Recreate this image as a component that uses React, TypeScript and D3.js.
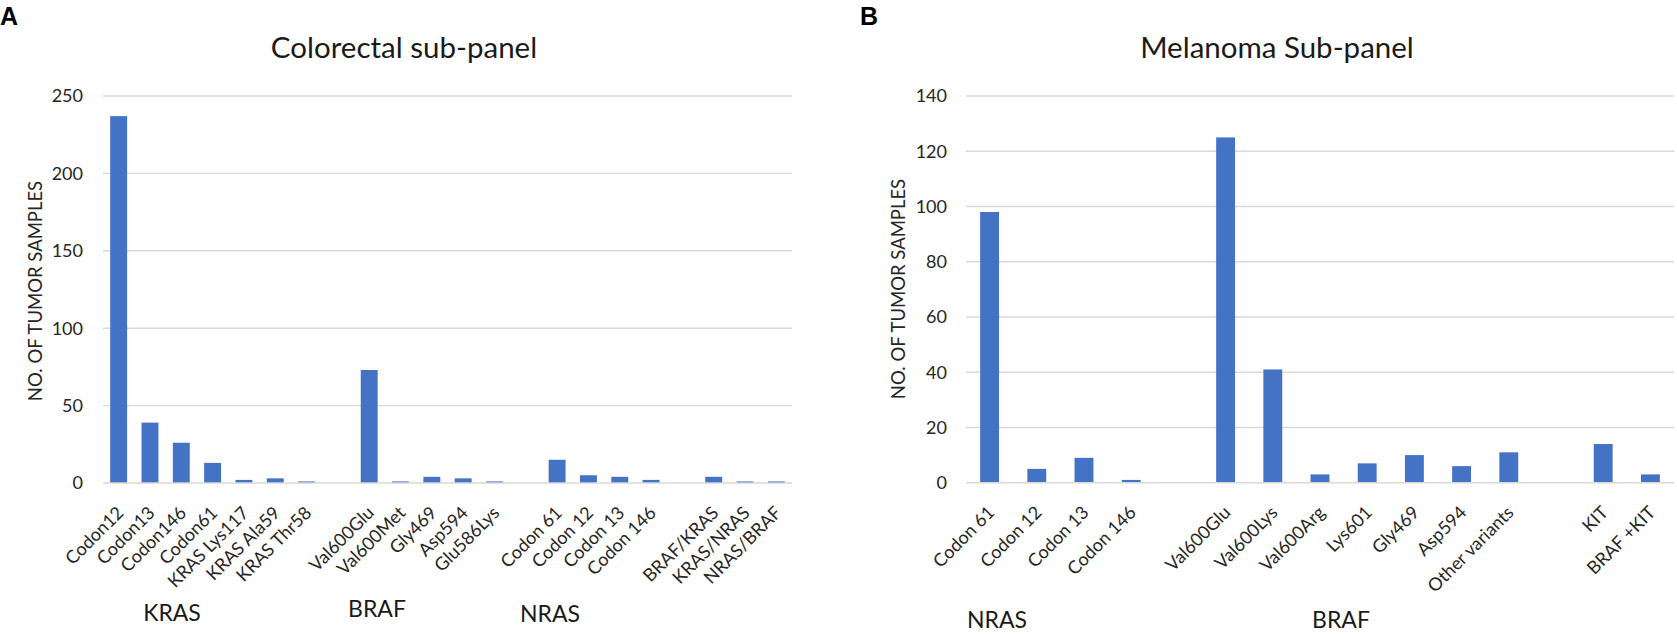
import React from 'react';
import * as d3 from 'd3';

// ---------- Data: Colorectal sub-panel (A) ----------
const crCategories = [
  'Codon12', 'Codon13', 'Codon146', 'Codon61', 'KRAS Lys117', 'KRAS Ala59', 'KRAS Thr58', '',
  'Val600Glu', 'Val600Met', 'Gly469', 'Asp594', 'Glu586Lys', ' ',
  'Codon 61', 'Codon 12', 'Codon 13', 'Codon 146', '  ',
  'BRAF/KRAS', 'KRAS/NRAS', 'NRAS/BRAF',
];
const crValues = [
  237, 39, 26, 13, 2, 3, 1, null,
  73, 1, 4, 3, 1, null,
  15, 5, 4, 2, null,
  4, 1, 1,
];
const crTicks = [0, 50, 100, 150, 200, 250];
const crGroups = ['KRAS', 'BRAF', 'NRAS'];

// ---------- Data: Melanoma sub-panel (B) ----------
const mlCategories = [
  'Codon 61', 'Codon 12', 'Codon 13', 'Codon 146', '',
  'Val600Glu', 'Val600Lys', 'Val600Arg', 'Lys601', 'Gly469', 'Asp594', 'Other variants', ' ',
  'KIT', 'BRAF +KIT',
];
const mlValues = [
  98, 5, 9, 1, null,
  125, 41, 3, 7, 10, 6, 11, null,
  14, 3,
];
const mlTicks = [0, 20, 40, 60, 80, 100, 120, 140];
const mlGroups = ['NRAS', 'BRAF'];

const BAR = '#4472C4';
const GRID = '#D9D9D9';
const TXT = '#262626';
const FONT = 'Lato, "Open Sans", sans-serif';

interface PanelProps {
  letter: string;
  letterX: number;
  title: string;
  titleX: number;
  categories: string[];
  values: (number | null)[];
  ticks: number[];
  groups: string[];
  groupPos: { x: number; y: number }[];
  x0: number;
  x1: number;
  yTop: number;
  yBase: number;
  barFrac: number;
  tickRight: number;
  yTitleX: number;
  yTitleY: number;
}

function Panel(p: PanelProps) {
  const x = d3
    .scaleBand<string>()
    .domain(p.categories)
    .range([p.x0, p.x1])
    .paddingInner(1 - p.barFrac)
    .paddingOuter((1 - p.barFrac) / 2);
  const y = d3
    .scaleLinear()
    .domain([0, p.ticks[p.ticks.length - 1]])
    .range([p.yBase, p.yTop]);
  const bw = x.bandwidth();
  return (
    <g>
      <text x={p.letterX} y={25} fontFamily="Arial, 'Liberation Sans', sans-serif" fontWeight="bold" fontSize={25} fill="#000">
        {p.letter}
      </text>
      <text x={p.titleX} y={58} textAnchor="middle" fontFamily={FONT} fontSize={29.5} fill="#1a1a1a">
        {p.title}
      </text>
      {p.ticks.map((t) => (
        <g key={t}>
          {t > 0 && (
            <line x1={p.x0} x2={p.x1} y1={y(t)} y2={y(t)} stroke={GRID} strokeWidth={1.4} />
          )}
          <text x={p.tickRight} y={y(t)} dy="0.35em" textAnchor="end" fontFamily={FONT} fontSize={18} fill={TXT}>
            {t}
          </text>
        </g>
      ))}
      {p.categories.map((c, i) => {
        const v = p.values[i];
        if (v == null) return null;
        const bx = x(c)!;
        return <rect key={'b' + i} x={bx} y={y(v)} width={bw} height={y(0) - y(v)} fill={BAR} />;
      })}
      <line x1={p.x0} x2={p.x1} y1={y(0)} y2={y(0)} stroke={GRID} strokeWidth={1.6} />
      {p.categories.map((c, i) => {
        if (p.values[i] == null) return null;
        const cx = x(c)! + bw / 2;
        return (
          <text
            key={'l' + i}
            transform={`translate(${cx + 6},${p.yBase + 31}) rotate(-45)`}
            textAnchor="end"
            fontFamily={FONT}
            fontSize={18}
            fill={TXT}
          >
            {c}
          </text>
        );
      })}
      <text
        transform={`translate(${p.yTitleX},${p.yTitleY}) rotate(-90)`}
        textAnchor="middle"
        fontFamily={FONT}
        fontSize={18.5}
        fill={TXT}
      >
        NO. OF TUMOR SAMPLES
      </text>
      {p.groups.map((g, i) => (
        <text key={g} x={p.groupPos[i].x} y={p.groupPos[i].y} textAnchor="middle" fontFamily={FONT} fontSize={23} fill="#1a1a1a">
          {g}
        </text>
      ))}
    </g>
  );
}

export default function App() {
  return (
    <svg
      width={1677}
      height={635}
      style={{ position: 'absolute', left: 0, top: 0, background: '#fff' }}
    >
      <rect width={1677} height={635} fill="#fff" />
      <Panel
        letter="A"
        letterX={0}
        title="Colorectal sub-panel"
        titleX={404}
        categories={crCategories}
        values={crValues}
        ticks={crTicks}
        groups={crGroups}
        groupPos={[
          { x: 172, y: 621 },
          { x: 377, y: 617 },
          { x: 550, y: 622 },
        ]}
        x0={103}
        x1={792}
        yTop={96}
        yBase={483}
        barFrac={0.54}
        tickRight={83}
        yTitleX={42}
        yTitleY={291}
      />
      <Panel
        letter="B"
        letterX={860}
        title="Melanoma Sub-panel"
        titleX={1277}
        categories={mlCategories}
        values={mlValues}
        ticks={mlTicks}
        groups={mlGroups}
        groupPos={[
          { x: 997, y: 628 },
          { x: 1341, y: 628 },
        ]}
        x0={966}
        x1={1674}
        yTop={96}
        yBase={482.7}
        barFrac={0.4}
        tickRight={947}
        yTitleX={905}
        yTitleY={289}
      />
    </svg>
  );
}
